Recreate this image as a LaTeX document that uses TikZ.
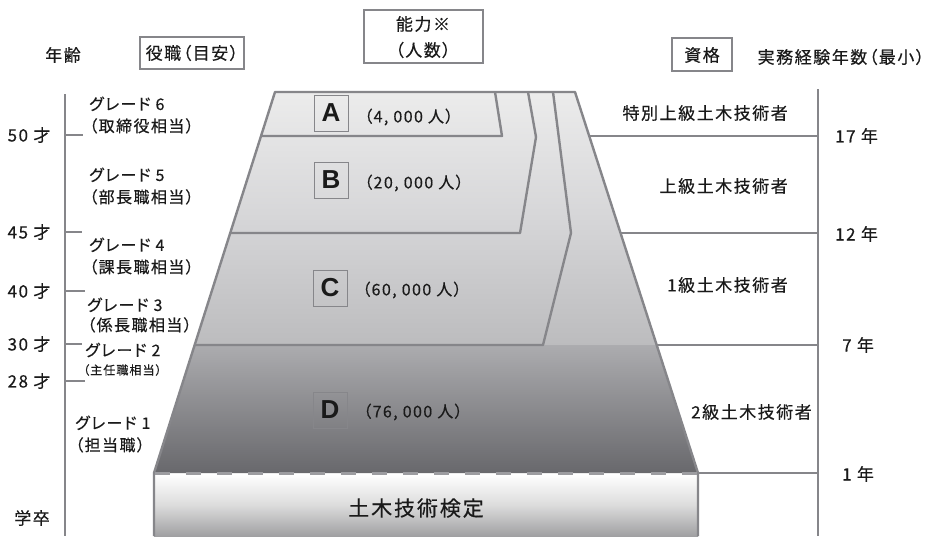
\documentclass[tikz,border=0pt]{standalone}
\usepackage{fontspec}
\setmainfont[RawFeature=+palt, LetterSpace=9, FakeBold=0.4]{Noto Sans CJK JP}
\newfontfamily\latinf{Liberation Sans}
\definecolor{lg}{HTML}{86868A}
\definecolor{pA}{HTML}{ECECEC}
\definecolor{pB}{HTML}{D6D6D8}
\definecolor{pC}{HTML}{BCBCBE}
\definecolor{pD}{HTML}{ACACAF}
\definecolor{pE}{HTML}{67676B}
\definecolor{bm}{HTML}{DCDCDC}
\definecolor{bb}{HTML}{A0A0A2}
\definecolor{dsh}{HTML}{9C9CA0}
\definecolor{tx}{HTML}{1A1A1A}
\begin{document}
\begin{tikzpicture}[x=1pt,y=-1pt,
  ln/.style={draw=lg, line width=2.4pt},
  thin box/.style={draw=lg, line width=1.1pt, inner sep=0pt},
  jt/.style={font=\fontsize{17}{20}\selectfont, text=tx, inner sep=0pt},
  gt/.style={font=\fontsize{16}{22}\selectfont, text=tx, inner sep=0pt, align=left, anchor=west},
  nt/.style={font=\fontsize{16}{18}\selectfont, text=tx, inner sep=0pt, anchor=west},
  lbox/.style={draw=lg, line width=1pt, minimum width=34pt, minimum height=36pt, inner sep=0pt, font=\latinf\bfseries\fontsize{26}{26}\selectfont, text=tx}]
\useasboundingbox (0,0) rectangle (941,536);
\fill[white] (0,0) rectangle (941,536);

% pyramid fill
\begin{scope}
  \clip (275,92) -- (575,92) -- (698,473) -- (154,473) -- cycle;
  \shade[top color=pA, bottom color=pC, middle color=pB] (150,90) rectangle (702,345);
  \shade[top color=pD, bottom color=pE] (150,345) rectangle (702,475);
\end{scope}
% bottom box fill
\shade[top color=white, bottom color=bb, middle color=bm] (154,474) rectangle (698,536);

% outer outline
\draw[ln, line join=round] (154,536) -- (154,473) -- (275,92) -- (575,92) -- (698,473) -- (698,536);
% dashed boundary
\draw[draw=dsh, line width=3pt, dash pattern=on 15pt off 16pt] (155,473) -- (697,473);

% inner boundaries
\draw[ln, line join=round] (495,92) -- (502,136) -- (261,136);
\draw[ln, line join=round] (528,92) -- (536,137) -- (520,233) -- (230,233);
\draw[ln, line join=round] (553,92) -- (571,233) -- (543,345) -- (195,345);

% right horizontal lines
\draw[ln] (589,136) -- (818,136);
\draw[ln] (620.5,233) -- (818,233);
\draw[ln] (656.7,345) -- (818,345);
\draw[ln] (698,473) -- (818,473);

% axes
\draw[ln] (65,94) -- (65,536);
\draw[ln] (65,135) -- (83,135);
\draw[ln] (65,232) -- (82,232);
\draw[ln] (65,291) -- (85,291);
\draw[ln] (65,344) -- (82,344);
\draw[ln] (65,381) -- (85,381);
\draw[ln] (818,89) -- (818,536);

% header
\node[jt] (nenrei) at (63,55) {年齢};
\draw[thin box] (140,37) rectangle (244,69);
\node[jt] (yaku) at (192,53) {役職（目安）};
\draw[thin box] (364,10) rectangle (483,63);
\node[jt] (nou1) at (423,24) {能力※};
\node[jt] (nou2) at (423,50) {（人数）};
\draw[thin box] (672,38) rectangle (732,71);
\node[jt] (shikaku) at (702,55) {資格};
\node[jt] (jitsumu) at (841,57) {実務経験年数（最小）};

% ages
\node[jt] (a50) at (29,135) {50 才};
\node[jt] (a45) at (29,232) {45 才};
\node[jt] (a40) at (29,291) {40 才};
\node[jt] (a30) at (29,344) {30 才};
\node[jt] (a28) at (29,381) {28 才};
\node[jt] (gaku) at (32,518) {学卒};

% grades
\node[gt] (g6) at (89,115) {グレード 6\\（取締役相当）};
\node[gt] (g5) at (89,186) {グレード 5\\（部長職相当）};
\node[gt] (g4) at (89,256) {グレード 4\\（課長職相当）};
\node[gt, font=\fontsize{16}{20}\selectfont] (g3) at (87,315) {グレード 3\\（係長職相当）};
\node[gt] (g2) at (85,350) {グレード 2};
\node[gt, font=\fontsize{12}{13}\selectfont] (g2b) at (83,370) {（主任職相当）};
\node[gt] (g1) at (75,434) {グレード 1\\（担当職）};

% levels
\node[lbox] (bA) at (331,113) {A};
\node[nt] (nA) at (364,117) {（4, 000 人）};
\node[lbox] (bB) at (331,180) {B};
\node[nt] (nB) at (364,183) {（20, 000 人）};
\node[lbox] (bC) at (330,288) {C};
\node[nt] (nC) at (362,290) {（60, 000 人）};
\node[lbox] (bD) at (330,410) {D};
\node[nt] (nD) at (363,412) {（76, 000 人）};

\node[jt, font=\fontsize{21}{24}\selectfont] (kentei) at (416,508) {土木技術検定};

% qualifications
\node[jt, anchor=east] (q1) at (788,113) {特別上級土木技術者};
\node[jt, anchor=east] (q2) at (788,186) {上級土木技術者};
\node[jt, anchor=east] (q3) at (788,285) {1級土木技術者};
\node[jt, anchor=east] (q4) at (812,412) {2級土木技術者};

% years
\node[jt, anchor=west] (y17) at (835,136) {17 年};
\node[jt, anchor=west] (y12) at (835,234) {12 年};
\node[jt, anchor=west] (y7) at (842,345) {7 年};
\node[jt, anchor=west] (y1) at (842,474) {1 年};
\end{tikzpicture}
\end{document}
